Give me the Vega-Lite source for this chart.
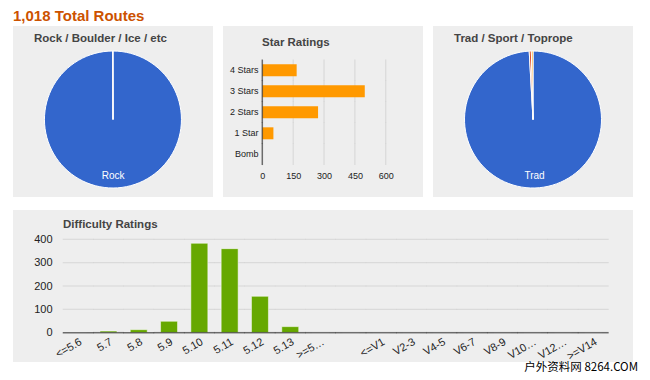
{
  "$schema": "https://vega.github.io/schema/vega-lite/v6.json",
  "background": "white",
  "padding": {"left": 13, "top": 9, "right": 5, "bottom": 0},
  "title": {"text": "1,018 Total Routes", "anchor": "start", "font": "Liberation Sans", "fontSize": 15, "fontWeight": "bold", "color": "#cc5200", "offset": 2},
  "config": {
    "view": {"fill": "#eeeeee", "stroke": null},
    "font": "Liberation Sans",
    "title": {"font": "Liberation Sans", "fontSize": 11.5, "fontWeight": "bold", "color": "#444444"}
  },
  "spacing": 13,
  "vconcat": [
    {
      "spacing": 10,
      "resolve": {"scale": {"color": "independent", "theta": "independent", "x": "independent", "y": "independent"}},
      "hconcat": [
        {
          "width": 200,
          "height": 171,
          "view": {"fill": "#eeeeee", "stroke": null},
          "title": {"text": "Rock / Boulder / Ice / etc", "anchor": "start", "dx": 21, "offset": -18},
          "data": {"values": [
            {"type": "Rock", "routes": 1017},
            {"type": "Boulder", "routes": 1}
          ]},
          "layer": [
            {
              "mark": {"type": "point", "opacity": 0, "size": 0},
              "encoding": {"x": {"datum": 0, "type": "quantitative", "axis": null, "scale": {"domain": [-1, 1]}}, "y": {"datum": 0, "type": "quantitative", "axis": null, "scale": {"domain": [-1, 1]}}}
            },
            {
              "mark": {"type": "arc", "outerRadius": 68.5, "stroke": "white", "strokeWidth": 1, "yOffset": 8},
              "encoding": {
                "theta": {"field": "routes", "type": "quantitative", "stack": true},
                "order": {"field": "routes", "sort": "descending"},
                "color": {"field": "type", "type": "nominal", "scale": {"domain": ["Rock", "Boulder"], "range": ["#3366cc", "#dc3912"]}, "legend": null}
              }
            },
            {
              "transform": [{"filter": "datum.type === 'Rock'"}],
              "mark": {"type": "text", "radius": 57, "color": "white", "fontSize": 10, "baseline": "middle", "yOffset": 8},
              "encoding": {
                "theta": {"field": "routes", "type": "quantitative", "stack": true},
                "text": {"field": "type"}
              }
            }
          ]
        },
        {
          "width": 200,
          "height": 171,
          "title": {"text": "Star Ratings", "anchor": "start", "dx": 39, "offset": -22},
          "data": {"values": [
            {"rating": "4 Stars", "count": 167},
            {"rating": "3 Stars", "count": 498},
            {"rating": "2 Stars", "count": 271},
            {"rating": "1 Star", "count": 54},
            {"rating": "Bomb", "count": 0}
          ]},
          "encoding": {
            "y": {"field": "rating", "type": "nominal", "sort": null,
                  "scale": {"paddingInner": 0.43, "paddingOuter": 0.215, "rangeMin": 33.8, "rangeMax": 138.8},
                  "axis": {"title": null, "domain": false, "ticks": false, "grid": false, "offset": -39, "labelPadding": 4, "labelFontSize": 9, "labelColor": "#222222"}}
          },
          "layer": [
            {"mark": {"type": "tick", "color": "#cccccc", "thickness": 1, "size": 21.5}, "encoding": {"x": {"datum": 150, "type": "quantitative", "scale": {"domain": [-191, 781], "nice": false, "zero": false}, "axis": {"title": null, "domain": false, "ticks": false, "grid": false, "values": [0, 150, 300, 450, 600], "labelOverlap": false, "offset": -28, "labelPadding": 2, "labelFontSize": 9, "labelColor": "#222222"}}}},
            {"mark": {"type": "tick", "color": "#cccccc", "thickness": 1, "size": 21.5}, "encoding": {"x": {"datum": 300, "type": "quantitative", "scale": {"domain": [-191, 781], "nice": false, "zero": false}, "axis": {"title": null, "domain": false, "ticks": false, "grid": false, "values": [0, 150, 300, 450, 600], "labelOverlap": false, "offset": -28, "labelPadding": 2, "labelFontSize": 9, "labelColor": "#222222"}}}},
            {"mark": {"type": "tick", "color": "#cccccc", "thickness": 1, "size": 21.5}, "encoding": {"x": {"datum": 450, "type": "quantitative", "scale": {"domain": [-191, 781], "nice": false, "zero": false}, "axis": {"title": null, "domain": false, "ticks": false, "grid": false, "values": [0, 150, 300, 450, 600], "labelOverlap": false, "offset": -28, "labelPadding": 2, "labelFontSize": 9, "labelColor": "#222222"}}}},
            {"mark": {"type": "tick", "color": "#cccccc", "thickness": 1, "size": 21.5}, "encoding": {"x": {"datum": 600, "type": "quantitative", "scale": {"domain": [-191, 781], "nice": false, "zero": false}, "axis": {"title": null, "domain": false, "ticks": false, "grid": false, "values": [0, 150, 300, 450, 600], "labelOverlap": false, "offset": -28, "labelPadding": 2, "labelFontSize": 9, "labelColor": "#222222"}}}},
            {
              "mark": {"type": "bar", "color": "#ff9900"},
              "encoding": {
                "x": {"field": "count", "type": "quantitative",
                      "scale": {"domain": [-191, 781], "nice": false, "zero": false},
                      "axis": {"title": null, "domain": false, "ticks": false, "grid": false, "values": [0, 150, 300, 450, 600], "labelOverlap": false, "offset": -28, "labelPadding": 2, "labelFontSize": 9, "labelColor": "#222222"}},
                "x2": {"datum": 0}
              }
            },
            {"mark": {"type": "tick", "color": "#333333", "thickness": 1.5, "size": 21.5}, "encoding": {"x": {"datum": 0, "type": "quantitative", "scale": {"domain": [-191, 781], "nice": false, "zero": false}, "axis": {"title": null, "domain": false, "ticks": false, "grid": false, "values": [0, 150, 300, 450, 600], "labelOverlap": false, "offset": -28, "labelPadding": 2, "labelFontSize": 9, "labelColor": "#222222"}}}}
          ]
        },
        {
          "width": 200,
          "height": 171,
          "view": {"fill": "#eeeeee", "stroke": null},
          "title": {"text": "Trad / Sport / Toprope", "anchor": "start", "dx": 21, "offset": -18},
          "data": {"values": [
            {"style": "Trad", "routes": 1009},
            {"style": "Sport", "routes": 5},
            {"style": "Toprope", "routes": 4}
          ]},
          "layer": [
            {
              "mark": {"type": "point", "opacity": 0, "size": 0},
              "encoding": {"x": {"datum": 0, "type": "quantitative", "axis": null, "scale": {"domain": [-1, 1]}}, "y": {"datum": 0, "type": "quantitative", "axis": null, "scale": {"domain": [-1, 1]}}}
            },
            {
              "mark": {"type": "arc", "outerRadius": 68.5, "stroke": "white", "strokeWidth": 1, "yOffset": 8},
              "encoding": {
                "theta": {"field": "routes", "type": "quantitative", "stack": true},
                "order": {"field": "routes", "sort": "descending"},
                "color": {"field": "style", "type": "nominal", "scale": {"domain": ["Trad", "Sport", "Toprope"], "range": ["#3366cc", "#dc3912", "#ff9900"]}, "legend": null}
              }
            },
            {
              "transform": [{"filter": "datum.style === 'Trad'"}],
              "mark": {"type": "text", "radius": 57, "color": "white", "fontSize": 10, "baseline": "middle", "yOffset": 8},
              "encoding": {
                "theta": {"field": "routes", "type": "quantitative", "stack": true},
                "text": {"field": "style"}
              }
            }
          ]
        }
      ]
    },
    {
      "title": {"text": "户外资料网 8264.COM", "orient": "bottom", "anchor": "end", "offset": 0, "dx": 5, "font": "Noto Sans CJK SC", "fontSize": 11.5, "fontWeight": "normal", "color": "#000000"},
      "vconcat": [
        {
          "width": 620,
          "height": 152,
          "title": {"text": "Difficulty Ratings", "anchor": "start", "dx": 50, "offset": -20},
          "data": {"values": [
            {"grade": "<=5.6", "routes": 0},
            {"grade": "5.7", "routes": 7},
            {"grade": "5.8", "routes": 13},
            {"grade": "5.9", "routes": 49},
            {"grade": "5.10", "routes": 383},
            {"grade": "5.11", "routes": 360},
            {"grade": "5.12", "routes": 156},
            {"grade": "5.13", "routes": 26},
            {"grade": ">=5…", "routes": 0},
            {"grade": " ", "routes": 0},
            {"grade": "<=V1", "routes": 0},
            {"grade": "V2-3", "routes": 0},
            {"grade": "V4-5", "routes": 0},
            {"grade": "V6-7", "routes": 0},
            {"grade": "V8-9", "routes": 0},
            {"grade": "V10…", "routes": 0},
            {"grade": "V12…", "routes": 0},
            {"grade": ">=V14", "routes": 0}
          ]},
          "encoding": {
            "x": {"field": "grade", "type": "nominal", "sort": null,
                  "scale": {"paddingInner": 0.44, "paddingOuter": 0.22, "rangeMin": 50, "rangeMax": 595.4},
                  "axis": {"title": null, "domain": false, "ticks": false, "grid": false, "labelAngle": -30, "labelOverlap": false, "offset": -29.3, "labelPadding": 3, "labelFontSize": 11, "labelColor": "#222222"}}
          },
          "layer": [
            {"mark": {"type": "tick", "color": "#cccccc", "thickness": 1, "size": 30.8}, "encoding": {"y": {"datum": 100, "type": "quantitative", "scale": {"domain": [-125.5, 525.5], "nice": false, "zero": false}, "axis": {"title": null, "domain": false, "ticks": false, "grid": false, "values": [0, 100, 200, 300, 400], "labelOverlap": false, "offset": -43, "labelPadding": 4, "labelFontSize": 11, "labelColor": "#222222"}}}},
            {"mark": {"type": "tick", "color": "#cccccc", "thickness": 1, "size": 30.8}, "encoding": {"y": {"datum": 200, "type": "quantitative", "scale": {"domain": [-125.5, 525.5], "nice": false, "zero": false}, "axis": {"title": null, "domain": false, "ticks": false, "grid": false, "values": [0, 100, 200, 300, 400], "labelOverlap": false, "offset": -43, "labelPadding": 4, "labelFontSize": 11, "labelColor": "#222222"}}}},
            {"mark": {"type": "tick", "color": "#cccccc", "thickness": 1, "size": 30.8}, "encoding": {"y": {"datum": 300, "type": "quantitative", "scale": {"domain": [-125.5, 525.5], "nice": false, "zero": false}, "axis": {"title": null, "domain": false, "ticks": false, "grid": false, "values": [0, 100, 200, 300, 400], "labelOverlap": false, "offset": -43, "labelPadding": 4, "labelFontSize": 11, "labelColor": "#222222"}}}},
            {"mark": {"type": "tick", "color": "#cccccc", "thickness": 1, "size": 30.8}, "encoding": {"y": {"datum": 400, "type": "quantitative", "scale": {"domain": [-125.5, 525.5], "nice": false, "zero": false}, "axis": {"title": null, "domain": false, "ticks": false, "grid": false, "values": [0, 100, 200, 300, 400], "labelOverlap": false, "offset": -43, "labelPadding": 4, "labelFontSize": 11, "labelColor": "#222222"}}}},
            {
              "mark": {"type": "bar", "color": "#66a800", "stroke": "#ffffff", "strokeWidth": 1, "strokeOpacity": 0.5},
              "encoding": {
                "y": {"field": "routes", "type": "quantitative",
                      "scale": {"domain": [-125.5, 525.5], "nice": false, "zero": false},
                      "axis": {"title": null, "domain": false, "ticks": false, "grid": false, "values": [0, 100, 200, 300, 400], "labelOverlap": false, "offset": -43, "labelPadding": 4, "labelFontSize": 11, "labelColor": "#222222"}},
                "y2": {"datum": 0}
              }
            },
            {"mark": {"type": "tick", "color": "#333333", "thickness": 1.5, "size": 30.8}, "encoding": {"y": {"datum": 0, "type": "quantitative", "scale": {"domain": [-125.5, 525.5], "nice": false, "zero": false}, "axis": {"title": null, "domain": false, "ticks": false, "grid": false, "values": [0, 100, 200, 300, 400], "labelOverlap": false, "offset": -43, "labelPadding": 4, "labelFontSize": 11, "labelColor": "#222222"}}}}
          ]
        }
      ]
    }
  ]
}
